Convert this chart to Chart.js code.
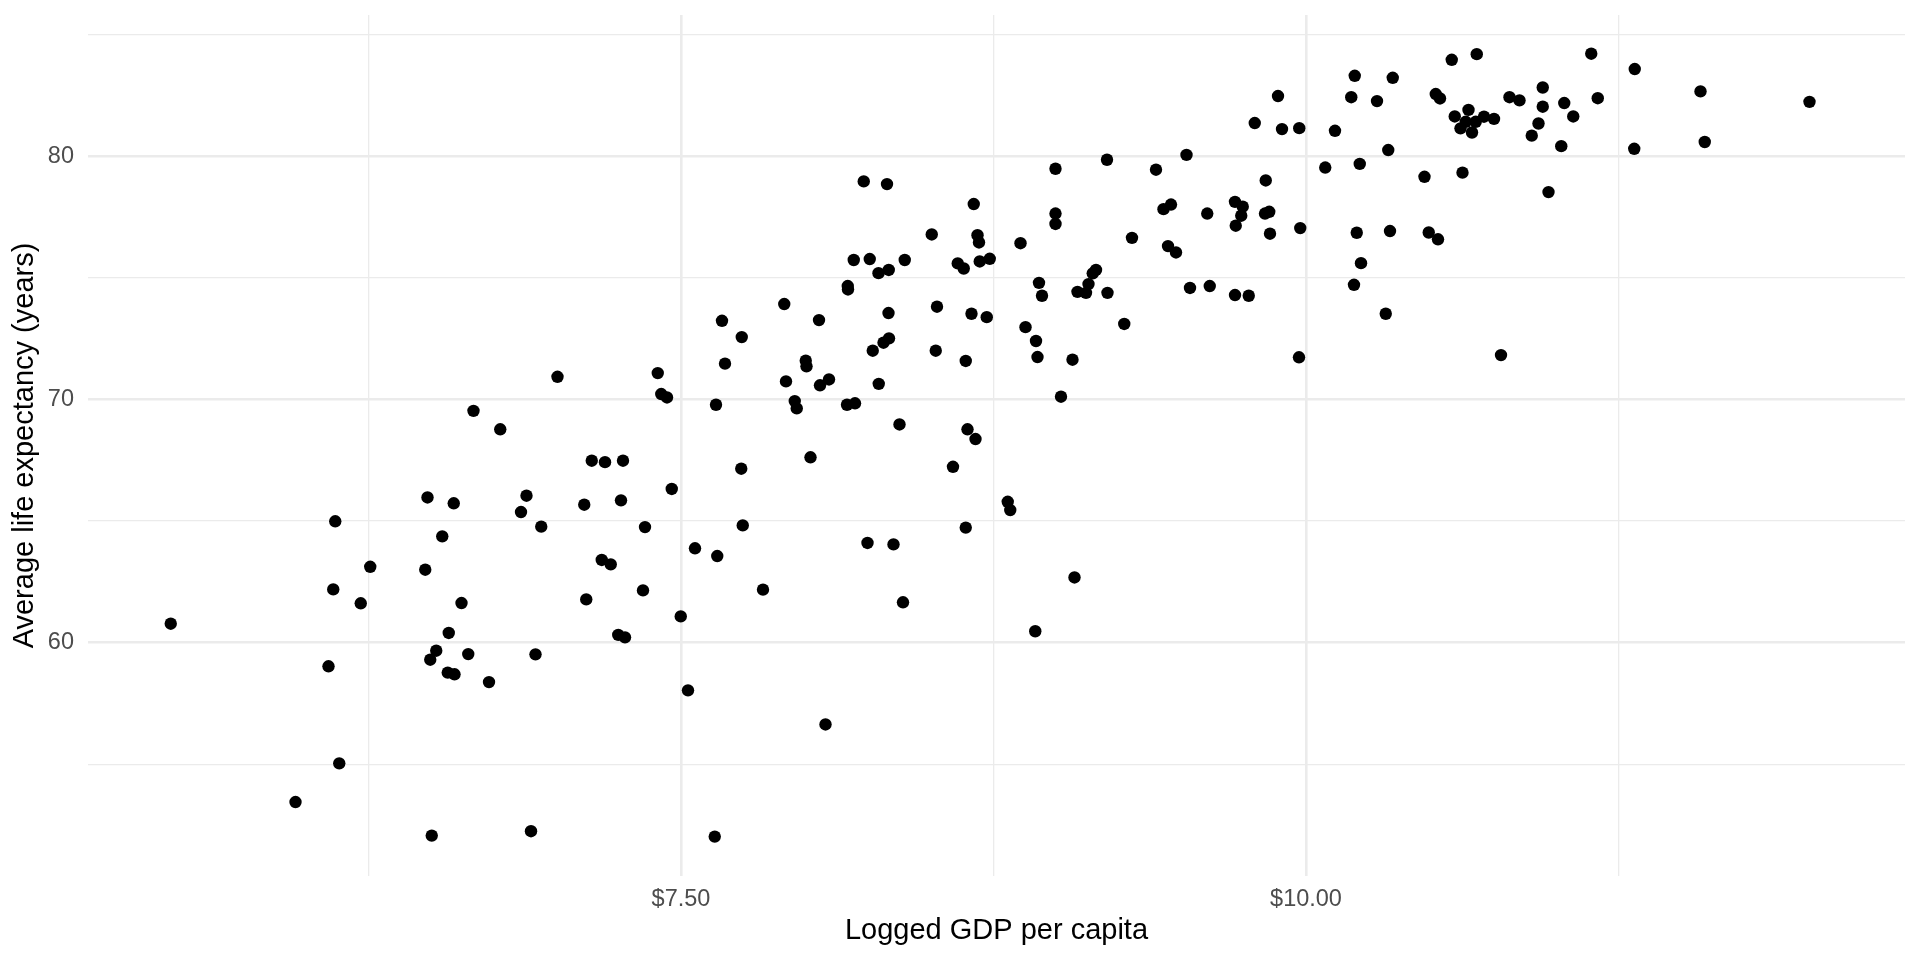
<!DOCTYPE html>
<html>
<head>
<meta charset="utf-8">
<script src="https://cdn.jsdelivr.net/npm/chart.js@4.4.1/dist/chart.umd.min.js"></script>
<style>
  html, body { margin: 0; padding: 0; background: #fff; }
  #wrap { width: 1920px; height: 960px; position: relative; }
</style>
</head>
<body>
<div id="wrap"><canvas id="gdp-chart"></canvas></div>
<script>
// logged GDP per capita (x) and life expectancy (y), one entry per country
const gdpLog = [
  7.006, 6.670, 6.777,
  8.231, 8.324, 8.671, 8.503, 8.686, 8.692, 8.191, 8.255, 8.395, 8.290,
  8.331, 8.607, 8.631, 8.695, 8.735, 8.167, 8.168, 7.913, 8.052, 7.664,
  7.743, 7.676, 8.330, 8.524, 8.662, 8.723, 8.267, 8.310, 8.332, 8.519,
  8.639, 7.407, 7.421, 7.444, 7.640, 7.920, 7.999, 8.002, 8.056, 8.092,
  8.291, 7.955, 7.963, 8.164, 8.196, 8.374, 8.646, 8.678,
  10.195, 10.347, 10.181, 10.284, 10.519, 10.536, 9.888, 9.795, 9.904, 9.973,
  10.116, 9.522, 9.204, 8.998, 9.400, 10.077, 10.215, 10.329, 10.474, 9.839,
  9.716, 9.747, 9.741, 9.719, 9.430, 9.460, 9.605, 9.836, 9.853, 9.856,
  9.977, 10.203, 10.336, 10.491, 10.528, 10.220, 10.192, 10.319, 8.858, 8.998,
  8.998, 9.304, 9.448, 9.480, 8.932, 8.944, 9.147, 9.160, 9.130, 9.086,
  9.120, 9.206, 9.536, 9.615, 9.716, 9.771, 8.878, 8.920, 8.926, 9.066,
  9.273, 9.020, 9.972,
  10.583, 10.683, 11.141, 11.315, 11.578, 12.014, 10.947, 10.814, 10.854, 10.947,
  11.033, 11.167, 10.650, 10.595, 10.618, 10.639, 10.679, 10.664, 10.712, 10.752,
  10.930, 10.903, 11.069, 11.021, 11.313, 11.595, 10.626, 10.970, 10.780,
  5.459, 6.117, 6.109, 6.090, 6.133, 5.958, 6.257, 6.219, 6.486, 6.591,
  6.545, 6.477, 6.622, 6.571, 6.521, 6.497, 6.649, 6.567, 6.594, 6.732,
  6.882, 6.860, 6.941, 6.918, 6.503, 6.900,
  7.143, 7.196, 7.268, 7.113, 7.260, 7.463, 7.741, 8.018, 8.588, 7.356,
  7.747, 7.556, 7.645, 7.183, 7.219, 7.121, 7.348, 7.828, 7.499, 7.249,
  7.276, 8.246, 8.350, 8.639, 8.388, 8.807, 8.817, 7.528, 8.078, 7.635,
  9.074, 8.917
];
const lifeExpectancy = [
  70.93, 69.53, 68.77,
  78.96, 78.85, 78.03, 76.78, 76.75, 76.45, 75.73, 75.77, 75.73, 75.19,
  75.32, 75.59, 75.38, 75.67, 75.78, 74.66, 74.52, 73.92, 73.26, 73.23,
  72.56, 71.47, 73.55, 73.81, 73.52, 73.38, 72.00, 72.33, 72.51, 72.00,
  71.58, 71.08, 70.22, 70.08, 69.78, 70.74, 71.59, 71.36, 70.58, 70.82,
  70.64, 69.93, 69.63, 69.78, 69.84, 68.97, 68.77, 68.37,
  83.30, 83.22, 82.42, 82.26, 82.55, 82.37, 82.47, 81.36, 81.11, 81.15,
  81.04, 80.05, 79.85, 79.48, 79.44, 79.53, 79.68, 80.25, 79.15, 79.00,
  78.12, 77.92, 77.55, 77.14, 77.82, 78.01, 77.64, 77.64, 77.71, 76.81,
  77.04, 76.85, 76.92, 76.86, 76.58, 75.60, 74.71, 73.52, 76.42, 77.64,
  77.21, 76.64, 76.30, 76.04, 74.79, 74.26, 75.18, 75.32, 74.74, 74.42,
  74.38, 74.38, 74.58, 74.66, 74.29, 74.26, 72.97, 72.40, 71.74, 71.63,
  73.10, 70.11, 71.73,
  83.96, 84.19, 84.21, 83.58, 82.66, 82.23, 82.82, 82.42, 82.29, 82.03,
  82.18, 82.38, 81.90, 81.63, 81.14, 81.41, 81.41, 80.97, 81.62, 81.53,
  81.34, 80.84, 81.63, 80.41, 80.30, 80.58, 79.32, 78.52, 71.82,
  60.78, 64.99, 62.19, 59.03, 55.04, 53.45, 63.12, 61.62, 65.97, 65.73,
  64.37, 63.00, 61.63, 60.40, 59.67, 59.30, 59.53, 58.77, 58.70, 58.38,
  66.04, 65.37, 64.77, 59.52, 52.07, 52.25,
  67.48, 67.42, 67.48, 65.67, 65.85, 66.32, 67.15, 67.62, 67.23, 64.75,
  64.82, 63.88, 63.56, 63.40, 63.22, 61.78, 62.15, 62.18, 61.08, 60.32,
  60.22, 64.10, 64.04, 64.73, 61.66, 65.79, 65.45, 58.04, 56.64, 52.03,
  62.68, 60.47
];

// gridline positions and the ones that carry a label
const xGridValues = [6.25, 7.5, 8.75, 10, 11.25];
const xLabelValues = [7.5, 10];
const xLabelText = ["$7.50", "$10.00"];
const yGridValues = [55, 60, 65, 70, 75, 80, 85];
const yLabelValues = [60, 70, 80];
const yLabelText = ["60", "70", "80"];

const points = gdpLog.map((x, i) => ({ x: x, y: lifeExpectancy[i] }));

const FONT = "'Liberation Sans', Arial, Helvetica, sans-serif";

function labelFor(values, texts, v) {
  const i = values.findIndex(m => Math.abs(m - v) < 1e-6);
  return i >= 0 ? texts[i] : "";
}

function gridWidth(values) {
  return c => (c.tick && values.some(m => Math.abs(m - c.tick.value) < 1e-6)) ? 2.6 : 1.3;
}

const ctx = document.getElementById("gdp-chart").getContext("2d");

new Chart(ctx, {
  type: "scatter",
  data: {
    datasets: [{
      data: points,
      backgroundColor: "#000000",
      borderWidth: 0,
      pointRadius: 6.2,
      pointHoverRadius: 6.2,
    }],
  },
  options: {
    responsive: true,
    maintainAspectRatio: false,
    animation: false,
    layout: { padding: { left: 0, right: 15, top: 15, bottom: 0 } },
    plugins: {
      legend: { display: false },
      tooltip: { enabled: false },
    },
    scales: {
      x: {
        type: "linear",
        min: 5.128,
        max: 12.396,
        afterBuildTicks: s => { s.ticks = xGridValues.map(v => ({ value: v })); },
        afterFit: s => {
          s.height = 84;
          s.paddingLeft = 0;
          s.paddingRight = 0;
        },
        border: { display: false },
        grid: { color: "#EBEBEB", lineWidth: gridWidth(xLabelValues), drawTicks: false },
        ticks: {
          padding: 9,
          color: "#4D4D4D",
          font: { family: FONT, size: 23.5 },
          maxRotation: 0,
          autoSkip: false,
          callback: v => labelFor(xLabelValues, xLabelText, v),
        },
        title: {
          display: true,
          text: "Logged GDP per capita",
          color: "#000000",
          font: { family: FONT, size: 29 },
          padding: { top: 0, bottom: 12 },
        },
      },
      y: {
        type: "linear",
        min: 50.41,
        max: 85.80,
        afterBuildTicks: s => { s.ticks = yGridValues.map(v => ({ value: v })); },
        afterFit: s => {
          s.width = 88;
          s.paddingTop = 0;
          s.paddingBottom = 0;
        },
        border: { display: false },
        grid: { color: "#EBEBEB", lineWidth: gridWidth(yLabelValues), drawTicks: false },
        ticks: {
          padding: 14,
          color: "#4D4D4D",
          font: { family: FONT, size: 23.5 },
          autoSkip: false,
          callback: v => labelFor(yLabelValues, yLabelText, v),
        },
        title: {
          display: true,
          text: "Average life expectancy (years)",
          color: "#000000",
          font: { family: FONT, size: 29 },
          padding: { top: 8, bottom: 0 },
        },
      },
    },
  },
});
</script>
</body>
</html>
